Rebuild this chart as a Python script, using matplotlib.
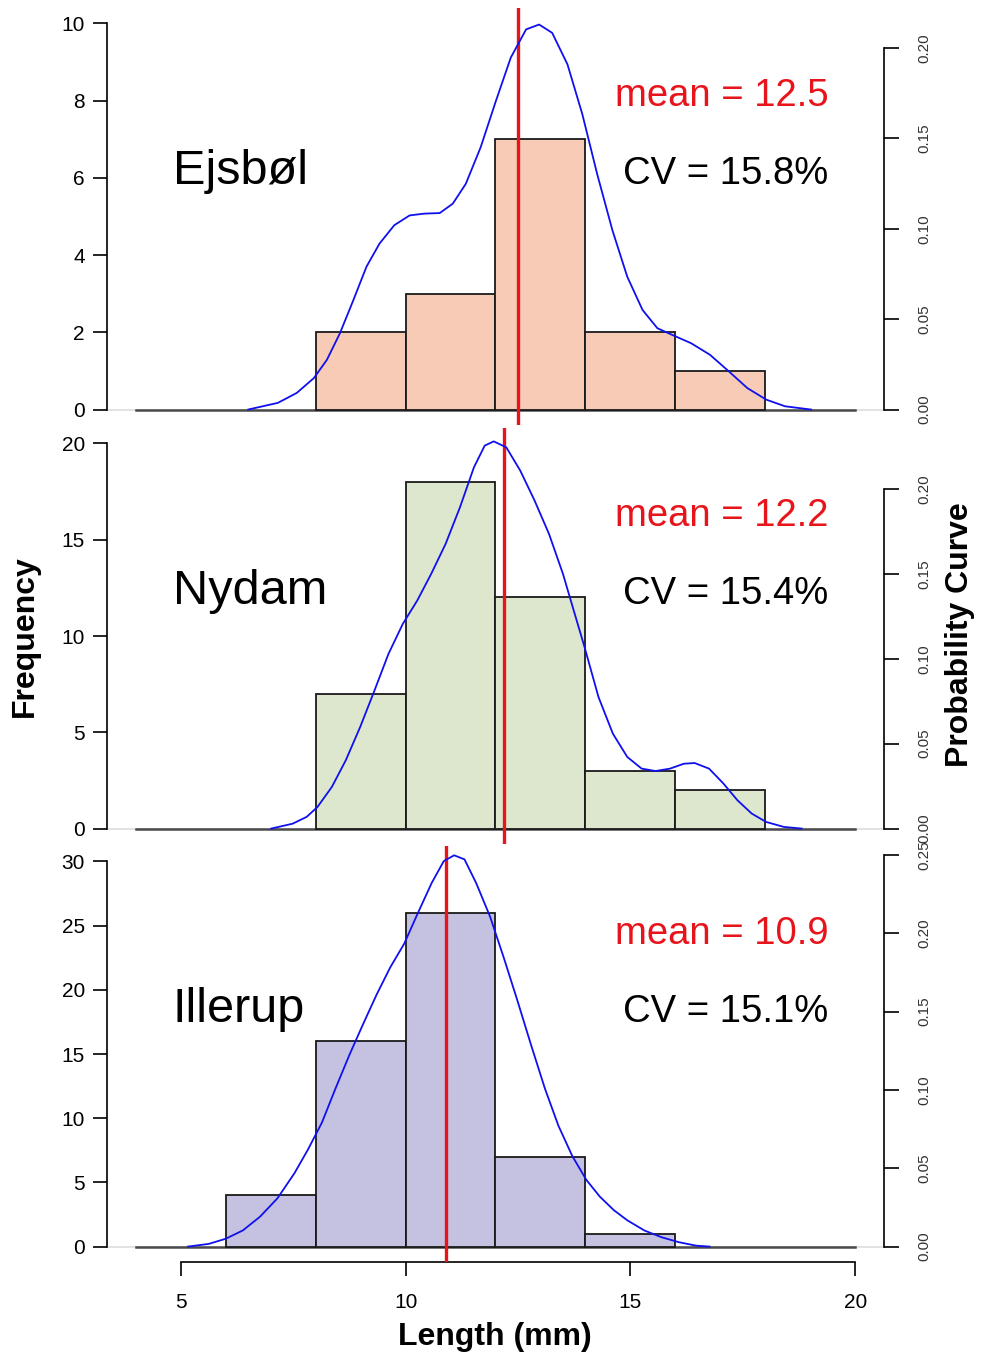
import matplotlib
matplotlib.use("Agg")
import matplotlib.pyplot as plt
import matplotlib.transforms as mtransforms

plt.rcParams['font.family'] = ['Liberation Sans', 'DejaVu Sans']

# histogram bins and counts for each site
names = ['Ejsbøl', 'Nydam', 'Illerup']
bin_edges = [
    [8, 10, 12, 14, 16, 18],
    [8, 10, 12, 14, 16, 18],
    [6, 8, 10, 12, 14, 16],
]
counts = [
    [2, 3, 7, 2, 1],
    [7, 18, 12, 3, 2],
    [4, 16, 26, 7, 1],
]
freq_top = [10, 20, 30]
freq_step = [2, 5, 5]
means = [12.5, 12.2, 10.9]
cvs = [15.8, 15.4, 15.1]
fills = ['#F8CBB6', '#DCE7CE', '#C5C2E1']

# density curves (x in mm, density)
dens_x = [
    [6.50, 7.16, 7.58, 7.96, 8.25, 8.54, 8.84, 9.13, 9.42, 9.75, 10.09, 10.42,
     10.76, 11.05, 11.34, 11.67, 12.01, 12.34, 12.68, 12.97, 13.26, 13.60,
     13.93, 14.26, 14.60, 14.93, 15.27, 15.60, 15.93, 16.35, 16.77, 17.19,
     17.60, 18.02, 18.44, 19.02],
    [7.01, 7.49, 7.80, 8.04, 8.36, 8.67, 8.99, 9.31, 9.62, 9.94, 10.26, 10.57,
     10.89, 11.21, 11.52, 11.76, 11.96, 12.24, 12.55, 12.87, 13.19, 13.50,
     13.74, 13.98, 14.29, 14.61, 14.93, 15.25, 15.56, 15.88, 16.19, 16.43,
     16.75, 17.07, 17.38, 17.70, 18.02, 18.41, 18.81],
    [5.16, 5.62, 6.00, 6.38, 6.76, 7.15, 7.53, 7.83, 8.14, 8.44, 8.75, 9.05,
     9.36, 9.66, 9.97, 10.27, 10.58, 10.85, 11.08, 11.31, 11.57, 11.88, 12.18,
     12.49, 12.79, 13.10, 13.40, 13.71, 14.02, 14.32, 14.63, 14.93, 15.31,
     15.69, 16.08, 16.46, 16.76],
]
dens_y = [
    [0.0, 0.0037, 0.0092, 0.0174, 0.0275, 0.0422, 0.0606, 0.0790, 0.0918,
     0.1020, 0.1074, 0.1084, 0.1087, 0.1139, 0.1249, 0.1451, 0.1708, 0.1947,
     0.2103, 0.2130, 0.2084, 0.1910, 0.1635, 0.1304, 0.0992, 0.0735, 0.0551,
     0.0450, 0.0413, 0.0367, 0.0303, 0.0211, 0.0119, 0.0055, 0.0018, 0.0],
    [0.0, 0.0029, 0.0069, 0.0127, 0.0245, 0.0402, 0.0598, 0.0814, 0.1029,
     0.1206, 0.1343, 0.1500, 0.1676, 0.1892, 0.2127, 0.2255, 0.2280, 0.2245,
     0.2108, 0.1931, 0.1735, 0.1500, 0.1284, 0.1069, 0.0775, 0.0559, 0.0422,
     0.0353, 0.0339, 0.0353, 0.0382, 0.0386, 0.0353, 0.0265, 0.0167, 0.0088,
     0.0039, 0.0010, 0.0],
    [0.0, 0.0017, 0.0050, 0.0103, 0.0190, 0.0308, 0.0469, 0.0620, 0.0792,
     0.1008, 0.1223, 0.1417, 0.1611, 0.1783, 0.1934, 0.2127, 0.2321, 0.2461,
     0.2498, 0.2472, 0.2321, 0.2106, 0.1848, 0.1568, 0.1288, 0.1008, 0.0771,
     0.0577, 0.0426, 0.0319, 0.0233, 0.0168, 0.0103, 0.0060, 0.0028, 0.0006,
     0.0],
]
dens_max = [0.2136, 0.2268, 0.2459]
dens_ticks_top = [0.20, 0.20, 0.25]
x_ticks = [5, 10, 15, 20]

W, H = 981, 1358
fig = plt.figure(figsize=(W / 100, H / 100), dpi=100)

# panel placement in pixels (top, bottom)
panels_px = [(8, 425), (428, 844), (846, 1262)]
left_px, right_px = 107, 884

for i in range(3):
    top, bot = panels_px[i]
    ax = fig.add_axes([left_px / W, (H - bot) / H, (right_px - left_px) / W, (bot - top) / H])
    ax.set_xlim(3.36, 20.64)
    ax.set_ylim(-0.04 * freq_top[i], 1.04 * freq_top[i])

    ax.axhline(0, color='#dddddd', lw=1.2, zorder=0)
    ax.plot([4, 20], [0, 0], color='#4a4a4a', lw=1.8, zorder=1)

    edges = bin_edges[i]
    widths = [edges[k + 1] - edges[k] for k in range(len(counts[i]))]
    ax.bar(edges[:-1], counts[i], width=widths, align='edge', color=fills[i],
           edgecolor='#1a1a1a', linewidth=1.3, zorder=2)
    ax.axvline(means[i], color='#E8141C', lw=2.4, zorder=3)

    for s in ['top', 'right']:
        ax.spines[s].set_visible(False)
    ax.spines['left'].set_bounds(0, freq_top[i])
    ax.spines['left'].set_linewidth(1.2)
    ax.set_yticks(range(0, freq_top[i] + 1, freq_step[i]))
    ax.tick_params(axis='y', length=10, width=1.2, labelsize=15, pad=6)

    if i < 2:
        ax.spines['bottom'].set_visible(False)
        ax.set_xticks([])
    else:
        ax.spines['bottom'].set_bounds(5, 20)
        ax.spines['bottom'].set_linewidth(1.2)
        ax.set_xticks(x_ticks)
        ax.tick_params(axis='x', length=10, width=1.2, labelsize=15, pad=12)

    trans = mtransforms.blended_transform_factory(ax.transData, ax.transAxes)
    ax.text(4.82, 0.608, names[i], transform=trans, fontsize=35,
            ha='left', va='center')
    ax.text(19.4, 0.788, f'mean = {means[i]}', transform=trans, fontsize=27.5,
            color='#E8141C', ha='right', va='center')
    ax.text(19.4, 0.601, f'CV = {cvs[i]}%', transform=trans, fontsize=27.5,
            ha='right', va='center')

    ax2 = ax.twinx()
    ax2.set_ylim(-0.04 * dens_max[i], 1.04 * dens_max[i])
    ax2.plot(dens_x[i], dens_y[i], color='#1010EE', lw=1.3, zorder=4)
    for s in ['top', 'left', 'bottom']:
        ax2.spines[s].set_visible(False)
    ax2.spines['right'].set_bounds(0, dens_ticks_top[i])
    ax2.spines['right'].set_linewidth(1.2)
    n = int(round(dens_ticks_top[i] / 0.05))
    ax2.set_yticks([0.05 * k for k in range(n + 1)])
    ax2.set_yticklabels([f'{0.05 * k:.2f}' for k in range(n + 1)])
    ax2.tick_params(axis='y', length=11, width=1.2, labelsize=11,
                    labelcolor='#333333', pad=13, labelrotation=90)
    for lab in ax2.get_yticklabels():
        lab.set_va('center')

fig.text(25 / W, 1 - 636 / H, 'Frequency', rotation=90, fontsize=23,
         fontweight='bold', ha='center', va='center')
fig.text(960 / W, 1 - 635 / H, 'Probability Curve', rotation=90, fontsize=23,
         fontweight='bold', ha='center', va='center')
fig.text(495 / W, 1 - 1337 / H, 'Length (mm)', fontsize=23,
         fontweight='bold', ha='center', va='center')

fig.savefig('out.png', dpi=100)
